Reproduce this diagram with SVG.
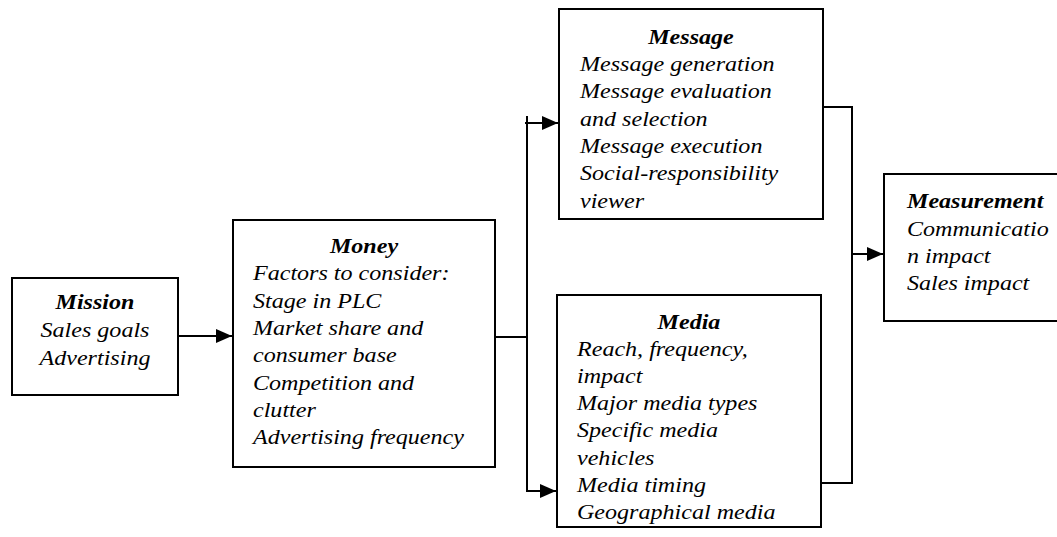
<svg xmlns="http://www.w3.org/2000/svg" width="1057" height="537" viewBox="0 0 1057 537">
<style>
.box{fill:#fff;stroke:#000;stroke-width:2}
.ln{fill:none;stroke:#000;stroke-width:2}
text{font-family:"Liberation Serif","Times New Roman",serif;font-style:italic;font-size:21.5px;fill:#000}
.t{font-weight:bold}
.c{text-anchor:middle}
</style>
<defs>
<marker id="ah" markerUnits="userSpaceOnUse" markerWidth="16" markerHeight="16" viewBox="0 0 16 16" refX="16" refY="8" orient="auto">
<path d="M0,1 L16,8 L0,15 Z" fill="#000"/>
</marker>
</defs>
<rect width="1057" height="537" fill="#fff"/>
<g id="connectors">
<line class="ln" x1="178" y1="336" x2="232" y2="336" marker-end="url(#ah)"/>
<line class="ln" x1="495" y1="337" x2="527" y2="337"/>
<line class="ln" x1="527" y1="116" x2="527" y2="492"/>
<line class="ln" x1="525" y1="123" x2="558" y2="123" marker-end="url(#ah)"/>
<line class="ln" x1="526" y1="491" x2="556" y2="491" marker-end="url(#ah)"/>
<polyline class="ln" points="820,107 852,107 852,483 821,483"/>
<line class="ln" x1="852" y1="254" x2="883" y2="254" marker-end="url(#ah)"/>
</g>
<g id="mission">
<rect class="box" x="12" y="278" width="166" height="117"/>
<g transform="translate(95 0) scale(1.12 1) translate(-95 0)">
<text class="t c" x="95" y="309">Mission</text>
<text class="c" x="95" y="337">Sales goals</text>
<text class="c" x="95" y="365">Advertising</text>
</g>
</g>
<g id="money">
<rect class="box" x="233" y="220" width="262" height="247"/>
<g transform="translate(364 0) scale(1.12 1) translate(-364 0)">
<text class="t c" x="364" y="253">Money</text>
</g>
<g transform="translate(253 0) scale(1.12 1) translate(-253 0)">
<text x="253" y="280">Factors to consider:</text>
<text x="253" y="308">Stage in PLC</text>
<text x="253" y="335">Market share and</text>
<text x="253" y="362">consumer base</text>
<text x="253" y="390">Competition and</text>
<text x="253" y="417">clutter</text>
<text x="253" y="444">Advertising frequency</text>
</g>
</g>
<g id="message">
<rect class="box" x="559" y="9" width="264" height="210"/>
<g transform="translate(691 0) scale(1.12 1) translate(-691 0)">
<text class="t c" x="691" y="44">Message</text>
</g>
<g transform="translate(580 0) scale(1.12 1) translate(-580 0)">
<text x="580" y="71">Message generation</text>
<text x="580" y="98.5">Message evaluation</text>
<text x="580" y="126">and selection</text>
<text x="580" y="153">Message execution</text>
<text x="580" y="180.5">Social-responsibility</text>
<text x="580" y="208">viewer</text>
</g>
</g>
<g id="media">
<rect class="box" x="557" y="295" width="264" height="232"/>
<g transform="translate(689 0) scale(1.12 1) translate(-689 0)">
<text class="t c" x="689" y="329">Media</text>
</g>
<g transform="translate(577 0) scale(1.12 1) translate(-577 0)">
<text x="577" y="356">Reach, frequency,</text>
<text x="577" y="383">impact</text>
<text x="577" y="410">Major media types</text>
<text x="577" y="437">Specific media</text>
<text x="577" y="465">vehicles</text>
<text x="577" y="492">Media timing</text>
<text x="577" y="519">Geographical media</text>
</g>
</g>
<g id="measurement">
<rect class="box" x="884" y="174" width="180" height="147"/>
<g transform="translate(907 0) scale(1.12 1) translate(-907 0)">
<text class="t" x="907" y="208">Measurement</text>
<text x="907" y="236">Communicatio</text>
<text x="907" y="263">n impact</text>
<text x="907" y="290">Sales impact</text>
</g>
</g>
</svg>
